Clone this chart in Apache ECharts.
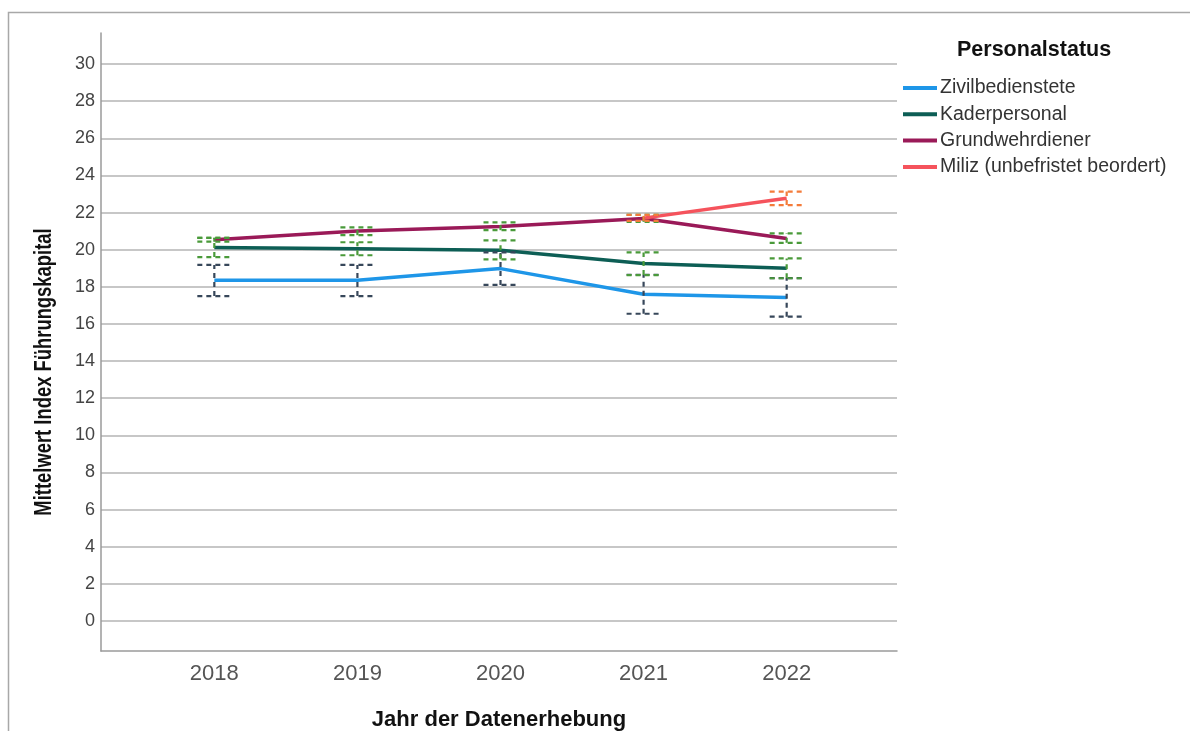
<!DOCTYPE html>
<html>
<head>
<meta charset="utf-8">
<script src="https://cdn.jsdelivr.net/npm/echarts@6/dist/echarts.min.js"></script>
<style>
  html, body { margin: 0; padding: 0; background: #ffffff; }
  #chart { width: 1190px; height: 731px; }
</style>
</head>
<body>
<div id="chart"></div>
<script>
// Survey years and y-axis tick labels
const years = [2018, 2019, 2020, 2021, 2022];
const yTicks = [0, 2, 4, 6, 8, 10, 12, 14, 16, 18, 20, 22, 24, 26, 28, 30];

const groupNames = ['Zivilbedienstete', 'Kaderpersonal', 'Grundwehrdiener', 'Miliz (unbefristet beordert)'];

// Mean index and confidence interval bounds per group
const zivMean = [18.35, 18.35, 18.98, 17.60, 17.43];
const zivLow = [17.50, 17.50, 18.10, 16.55, 16.39];
const zivHigh = [19.18, 19.18, 19.86, 18.65, 18.47];

const kaderMean = [20.12, 20.05, 19.97, 19.25, 19.00];
const kaderLow = [19.60, 19.70, 19.48, 18.63, 18.46];
const kaderHigh = [20.64, 20.40, 20.50, 19.85, 19.53];

const grundMean = [20.54, 21.00, 21.25, 21.68, 20.60];
const grundLow = [20.43, 20.78, 21.05, 21.50, 20.37];
const grundHigh = [20.64, 21.20, 21.47, 21.87, 20.88];

const milizMean = [null, null, null, 21.70, 22.77];
const milizLow = [null, null, null, 21.55, 22.40];
const milizHigh = [null, null, null, 21.87, 23.13];

const FONT = '"Liberation Sans", Arial, sans-serif';

function pairs(values) {
  return years.map((y, i) => (values[i] == null ? null : [y, values[i]])).filter(Boolean);
}

function meanLine(name, values, color) {
  return {
    type: 'line',
    name: name,
    data: pairs(values),
    symbol: 'none',
    showSymbol: false,
    lineStyle: { width: 3.5, color: color },
    itemStyle: { color: color },
    z: 3,
    silent: true
  };
}

// Dashed whisker with caps between lower and upper bound
function errorBars(name, lows, highs, color) {
  const data = years
    .map((y, i) => (lows[i] == null ? null : [y, lows[i], highs[i]]))
    .filter(Boolean);
  return {
    type: 'custom',
    name: name + ' (KI)',
    data: data,
    encode: { x: 0, y: [1, 2] },
    z: 5,
    silent: true,
    renderItem(params, api) {
      const x = api.value(0);
      const lo = api.coord([x, api.value(1)]);
      const hi = api.coord([x, api.value(2)]);
      const hw = 17;
      const style = { stroke: color, lineWidth: 2.2, lineDash: [5, 4], fill: null };
      return {
        type: 'group',
        children: [
          { type: 'line', shape: { x1: lo[0], y1: lo[1], x2: hi[0], y2: hi[1] }, style: style },
          { type: 'line', shape: { x1: lo[0] - hw, y1: lo[1], x2: lo[0] + hw, y2: lo[1] }, style: style },
          { type: 'line', shape: { x1: hi[0] - hw, y1: hi[1], x2: hi[0] + hw, y2: hi[1] }, style: style }
        ]
      };
    }
  };
}

const colors = ['#1e96e8', '#0d5e55', '#9a1a58', '#f5535c'];
const barColors = ['#37475a', '#4a9a3a', '#4a9a3a', '#f47b3a'];

const chart = echarts.init(document.getElementById('chart'), null, { renderer: 'canvas' });

chart.setOption({
  animation: false,
  backgroundColor: '#ffffff',
  textStyle: { fontFamily: FONT },
  title: {
    text: 'Personalstatus',
    left: 957,
    top: 39,
    padding: 0,
    textStyle: { fontSize: 21.5, fontWeight: 'bold', color: '#111111', fontFamily: FONT }
  },
  legend: {
    orient: 'vertical',
    left: 903,
    top: 78,
    padding: 0,
    itemWidth: 34,
    itemHeight: 4,
    itemGap: 6.3,
    icon: 'rect',
    data: groupNames,
    selectedMode: false,
    textStyle: { fontSize: 19.5, color: '#333333', lineHeight: 20, fontFamily: FONT, padding: [0, 0, 0, -2] }
  },
  grid: { left: 101, top: 33, right: 293, bottom: 80, containLabel: false, outerBoundsMode: 'none' },
  xAxis: {
    type: 'value',
    min: 2017.208,
    max: 2022.771,
    axisLine: { show: true, onZero: false, lineStyle: { color: '#9a9a9a', width: 1.5 } },
    axisTick: { show: false, customValues: years },
    axisLabel: {
      customValues: years,
      formatter: (v) => String(v),
      fontSize: 22,
      color: '#555555',
      margin: 12,
      fontFamily: FONT
    },
    splitLine: { show: false },
    name: 'Jahr der Datenerhebung',
    nameLocation: 'middle',
    nameGap: 58,
    nameTextStyle: { fontSize: 22, fontWeight: 'bold', color: '#111111', fontFamily: FONT }
  },
  yAxis: {
    type: 'value',
    min: -1.615,
    max: 31.67,
    axisLine: { show: true, onZero: false, lineStyle: { color: '#9a9a9a', width: 1.5 } },
    axisTick: { show: false, customValues: yTicks },
    axisLabel: { customValues: yTicks, fontSize: 18, color: '#444444', margin: 6, fontFamily: FONT },
    splitLine: { show: true, lineStyle: { color: '#b5b5b5', width: 1.5 } }
  },
  graphic: [
    {
      type: 'rect',
      silent: true,
      z: -10,
      shape: { x: 8.5, y: 12.5, width: 1400, height: 1000 },
      style: { fill: null, stroke: '#a8a8a8', lineWidth: 1.5 }
    },
    {
      type: 'text',
      silent: true,
      x: 45,
      y: 372,
      rotation: Math.PI / 2,
      scaleX: 0.8,
      style: {
        text: 'Mittelwert Index Führungskapital',
        font: 'bold 23px "Liberation Sans", Arial, sans-serif',
        fill: '#111111',
        align: 'center',
        verticalAlign: 'middle'
      }
    }
  ],
  series: [
    meanLine(groupNames[0], zivMean, colors[0]),
    meanLine(groupNames[1], kaderMean, colors[1]),
    meanLine(groupNames[2], grundMean, colors[2]),
    meanLine(groupNames[3], milizMean, colors[3]),
    errorBars(groupNames[0], zivLow, zivHigh, barColors[0]),
    errorBars(groupNames[1], kaderLow, kaderHigh, barColors[1]),
    errorBars(groupNames[2], grundLow, grundHigh, barColors[2]),
    errorBars(groupNames[3], milizLow, milizHigh, barColors[3])
  ]
});
</script>
</body>
</html>
